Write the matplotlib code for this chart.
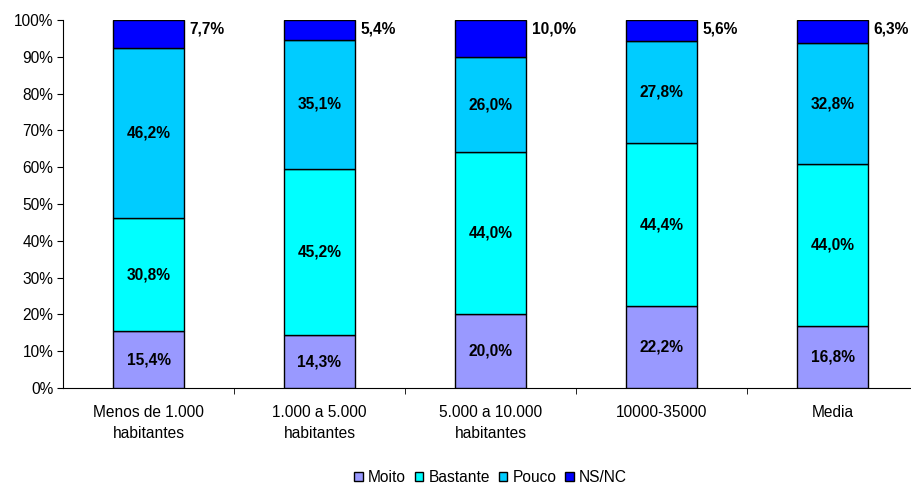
import matplotlib

matplotlib.use("Agg")
import matplotlib.pyplot as plt
import numpy as np
from matplotlib.ticker import FuncFormatter

plt.rcParams["font.family"] = ["Liberation Sans", "DejaVu Sans"]

categories = ["Menos de 1.000\nhabitantes", "1.000 a 5.000\nhabitantes",
              "5.000 a 10.000\nhabitantes", "10000-35000", "Media"]
moito = [15.4, 14.3, 20.0, 22.2, 16.8]
bastante = [30.8, 45.2, 44.0, 44.4, 44.0]
pouco = [46.2, 35.1, 26.0, 27.8, 32.8]
nsnc = [7.7, 5.4, 10.0, 5.6, 6.3]

series = [("Moito", moito, "#9999FF"),
          ("Bastante", bastante, "#00FFFF"),
          ("Pouco", pouco, "#00CCFF"),
          ("NS/NC", nsnc, "#0000FF")]

totals = np.sum([s[1] for s in series], axis=0)

fig = plt.figure(figsize=(9.12, 4.88), dpi=100)
ax = fig.add_axes([63 / 912, 1 - 388 / 488, 1 - 63 / 912, 368 / 488])

x = np.arange(len(categories))
width = 0.41
bottom = np.zeros(len(categories))
for name, vals, color in series:
    h = np.array(vals) / totals * 100
    ax.bar(x, h, width, bottom=bottom, color=color, edgecolor="black",
           linewidth=1, label=name, zorder=3)
    for i, v in enumerate(vals):
        txt = f"{v:.1f}%".replace(".", ",")
        if name == "NS/NC":
            ax.text(x[i] + width / 2 + 0.035, 97.6, txt, ha="left", va="center",
                    fontsize=11.2, fontweight="bold")
        else:
            ax.text(x[i], bottom[i] + h[i] / 2, txt, ha="center", va="center",
                    fontsize=11.2, fontweight="bold")
    bottom += h

ax.set_xlim(-0.5, -0.5 + 849 / 171)
ax.set_ylim(0, 100)
ax.set_yticks(np.arange(0, 101, 10))
ax.yaxis.set_major_formatter(FuncFormatter(lambda v, p: f"{v:.0f}%"))
ax.set_xticks(x)
ax.set_xticklabels(categories, fontsize=11.2, linespacing=1.5)
ax.set_xticks(np.arange(0.5, len(categories) - 0.5, 1), minor=True)
ax.tick_params(axis="x", which="major", length=0, pad=12)
ax.tick_params(axis="x", which="minor", length=4, direction="out")
ax.tick_params(axis="y", length=4, labelsize=11.2, direction="out", pad=3)
for side in ["top", "right"]:
    ax.spines[side].set_visible(False)

fig.legend(loc="lower center", bbox_to_anchor=(0.538, -0.022), ncol=4,
           frameon=False, fontsize=11.2, handlelength=0.55, handleheight=0.55,
           handletextpad=0.35, columnspacing=0.55)

fig.savefig("out.png", dpi=100)
